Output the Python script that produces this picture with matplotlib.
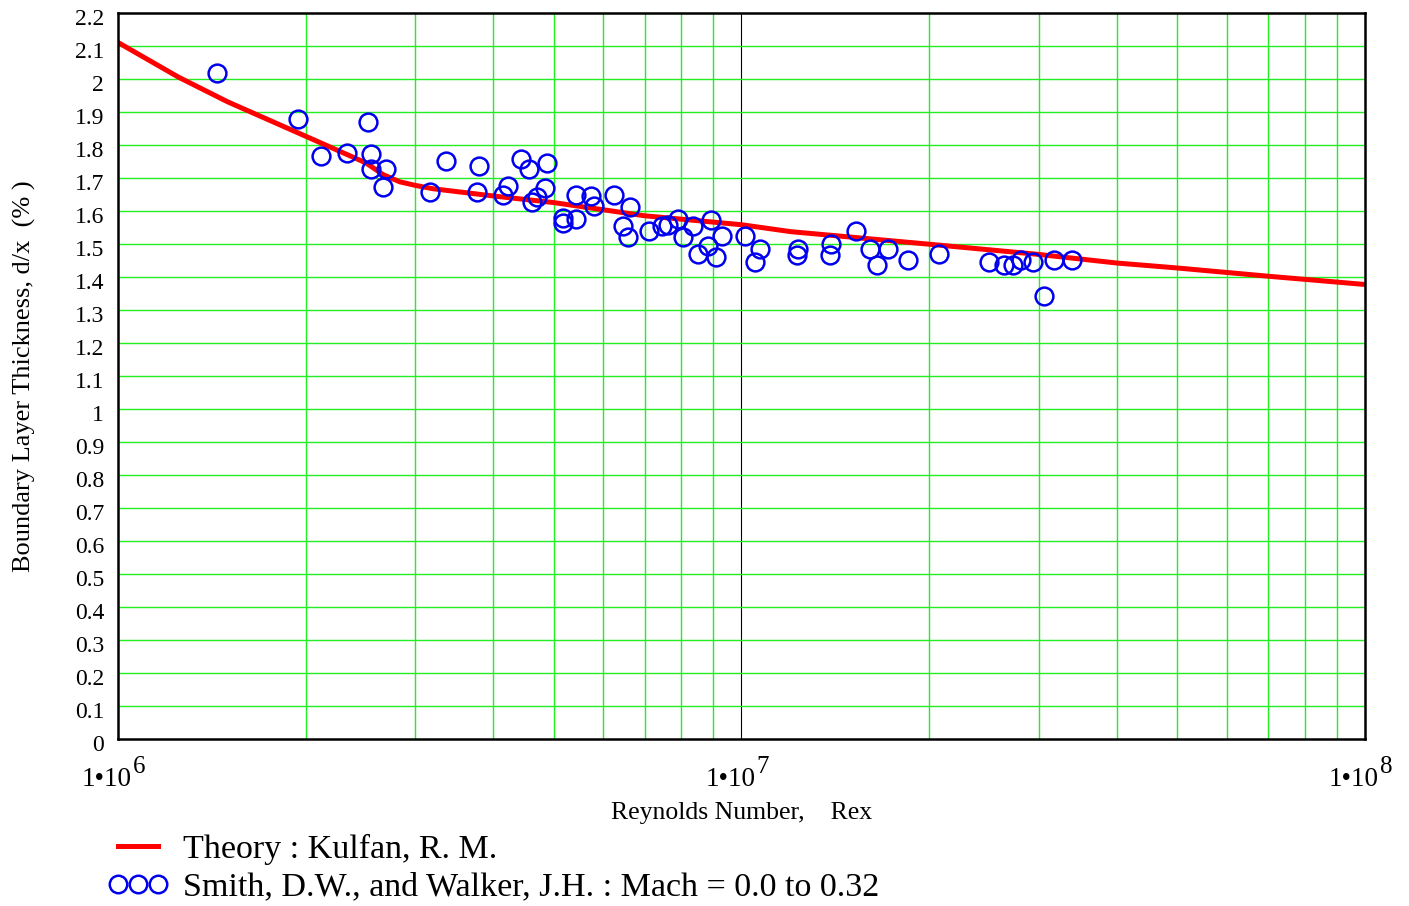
import numpy as np
import matplotlib
matplotlib.use("Agg")
import matplotlib.pyplot as plt
import matplotlib.transforms as mtransforms
from matplotlib.lines import Line2D
from matplotlib.legend_handler import HandlerLine2D
from matplotlib.ticker import FixedLocator, NullFormatter

plt.rcParams["font.family"] = ["Liberation Serif", "DejaVu Serif"]

# ── Theory curve (Kulfan) ─────────────────────────────────────────────────────
theory_re = [1e6, 1.25e6, 1.5e6, 2e6, 2.5e6, 2.66e6, 2.83e6, 3e6, 3.2e6, 4e6, 5e6,
             7e6, 1e7, 1.2e7, 2e7, 3e7, 4e7, 5e7, 7e7, 1e8]
theory_dx = [2.11, 2.005, 1.93, 1.826, 1.745, 1.71, 1.688, 1.677, 1.667, 1.645,
             1.625, 1.585, 1.558, 1.537, 1.499, 1.468, 1.442, 1.427, 1.402, 1.377]

# ── Smith & Walker data (Re in millions, d/x in %) ────────────────────────────
exp_re_m = [1.440, 1.942, 2.116, 2.327, 2.515, 2.543, 2.543, 2.688, 2.664, 3.165,
            3.354, 3.761, 3.797, 4.141, 4.215, 4.430, 4.563, 4.613, 4.708, 4.835,
            4.871, 5.168, 5.180, 5.427, 5.427, 5.730, 5.800, 6.252, 6.625, 6.449,
            6.569, 7.099, 7.447, 7.630, 7.917, 8.047, 8.350, 8.935, 9.295, 8.524,
            8.846, 9.092, 10.13, 10.71, 10.51, 12.31, 12.26, 13.90, 13.87, 15.26,
            16.07, 16.50, 17.15, 18.51, 20.76, 24.93, 26.41, 27.23, 28.03, 29.38,
            30.51, 31.71, 33.89]
exp_dx = [2.018, 1.877, 1.765, 1.775, 1.870, 1.771, 1.727, 1.727, 1.673, 1.656,
          1.752, 1.657, 1.735, 1.649, 1.675, 1.758, 1.727, 1.626, 1.642, 1.668,
          1.744, 1.579, 1.564, 1.576, 1.649, 1.644, 1.616, 1.649, 1.611, 1.555,
          1.521, 1.538, 1.553, 1.558, 1.574, 1.521, 1.553, 1.572, 1.523, 1.468,
          1.493, 1.460, 1.523, 1.485, 1.444, 1.485, 1.466, 1.501, 1.465, 1.538,
          1.484, 1.435, 1.484, 1.452, 1.468, 1.445, 1.435, 1.435, 1.452, 1.445,
          1.341, 1.452, 1.452]

y_ticks = [round(0.1 * i, 1) for i in range(23)]
x_major = [1e6, 1e7, 1e8]
x_major_exp = ["6", "7", "8"]

exp_re = np.array(exp_re_m) * 1e6

fig = plt.figure(figsize=(14.09, 9.06), dpi=100)
ax = fig.add_axes([0.0837, 0.184, 0.8851, 0.802])

ax.set_xscale("log")
ax.set_xlim(1e6, 1e8)
ax.set_ylim(0, 2.2)

# grid: green minor verticals + horizontals, black line at 1e7
minor_x = [m * 10 ** d for d in (6, 7) for m in range(2, 10)]
for xv in minor_x:
    ax.axvline(xv, color="#22ee22", lw=1.0, zorder=1)
ax.axvline(1e7, color="black", lw=0.8, zorder=1)
for yv in y_ticks[1:-1]:
    ax.axhline(yv, color="#22ee22", lw=1.0, zorder=1)

ax.plot(theory_re, theory_dx, color="#ff0000", lw=3.6, zorder=3,
        label="Theory : Kulfan, R. M.")
ax.plot(exp_re, exp_dx, linestyle="none", marker="o", markersize=12.8,
        markerfacecolor="none", markeredgecolor="#0000ee", markeredgewidth=1.8,
        zorder=4, label="Smith, D.W., and Walker, J.H. : Mach = 0.0 to 0.32")

ax.set_yticks(y_ticks)
ax.set_yticklabels(["%g" % v for v in y_ticks])
ax.xaxis.set_major_locator(FixedLocator(x_major))
ax.xaxis.set_major_formatter(NullFormatter())
ax.xaxis.set_minor_locator(FixedLocator(minor_x))
ax.xaxis.set_minor_formatter(NullFormatter())
ax.tick_params(axis="both", which="both", length=0)
ax.tick_params(axis="y", labelsize=17, pad=10)

# y tick labels sit a little below their grid lines
shift = mtransforms.ScaledTranslation(0, -4 / 100, fig.dpi_scale_trans)
for lbl in ax.get_yticklabels():
    lbl.set_transform(lbl.get_transform() + shift)

# x tick labels in the "1•10^n" style, exponent same size as the mantissa
xtr = ax.get_xaxis_transform()
for xv, ex in zip(x_major, x_major_exp):
    ax.annotate("1•10", xy=(xv, 0), xycoords=xtr, xytext=(10, -33.5),
                textcoords="offset points", ha="right", va="baseline",
                fontsize=19.5, annotation_clip=False)
    ax.annotate(ex, xy=(xv, 0), xycoords=xtr, xytext=(11.0, -24.5),
                textcoords="offset points", ha="left", va="baseline",
                fontsize=18, annotation_clip=False)

for s in ax.spines.values():
    s.set_linewidth(1.8)
    s.set_zorder(5)

ax.set_xlabel("Reynolds Number,    Rex", fontsize=18.5)
ax.xaxis.set_label_coords(0.5, -0.086)
ax.set_ylabel("Boundary Layer Thickness, d/x  (% )", fontsize=19)
ax.yaxis.set_label_coords(-0.066, 0.5)

handles, labels = ax.get_legend_handles_labels()
handles[1] = Line2D([], [], linestyle="none", marker="o", markersize=12.6,
                    markerfacecolor="none", markeredgecolor="#0000ee",
                    markeredgewidth=1.8)
fig.legend(handles, labels, loc="upper left", bbox_to_anchor=(108 / 1409, 1 - 834 / 906),
           frameon=False, fontsize=24.5, numpoints=3, handlelength=1.78,
           handletextpad=0.42, labelspacing=0.2, borderpad=0, borderaxespad=0,
           handler_map={handles[1]: HandlerLine2D(numpoints=3)})

fig.savefig("out.png", dpi=100)
